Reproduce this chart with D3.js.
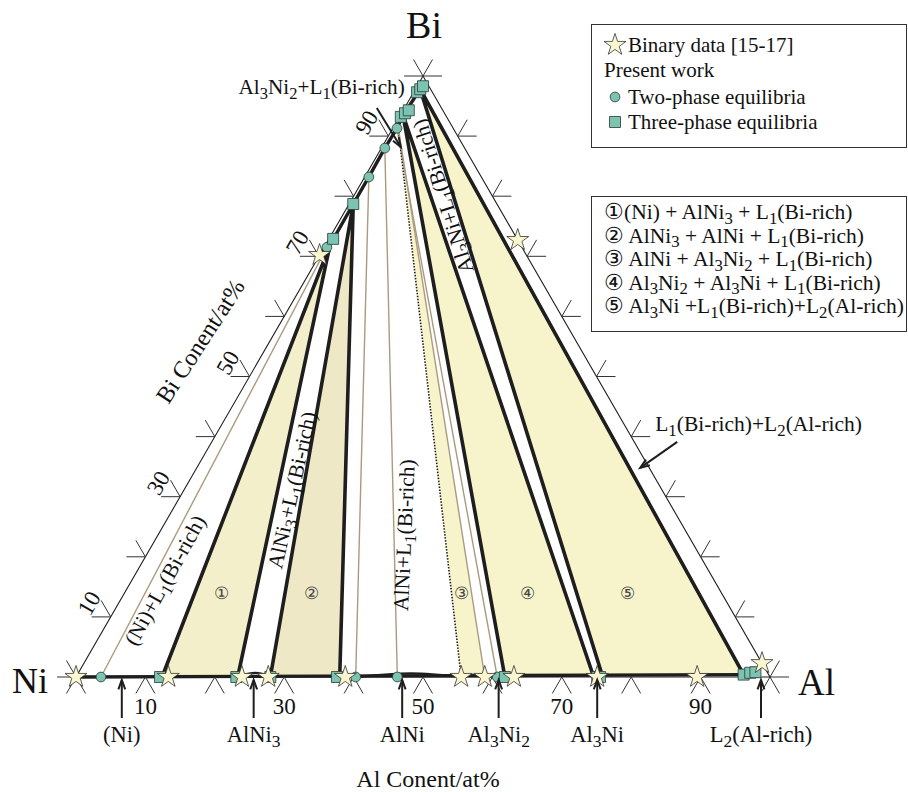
<!DOCTYPE html>
<html>
<head>
<meta charset="utf-8">
<script src="https://cdn.jsdelivr.net/npm/d3@7"></script>
<style>
body { margin: 0; background: #fff; }
svg text { font-family: "Liberation Serif", "DejaVu Serif", serif; fill: #111; }
</style>
</head>
<body>
<svg id="chart" width="908" height="792"></svg>
<script>
// all compositions are at% as [Al, Bi]
var binaryStars = [[0,0],[13.3,0],[23.9,0],[27.7,0],[38.8,0],[55.5,0],[58.9,0],[63.1,0],[75.1,0],[89.5,0],[97.7,2.3],[0,70.2],[27.3,72.7]]
var twoPhaseSolid = [[3.6,0],[40.3,0],[46.3,0],[60.7,0]]
var twoPhaseLiquid = [[0.4,71.5],[0.6,83.2],[0.5,88.0],[0.6,91.3]]
var threePhasePts = [[12.1,0],[23.1,0],[28.0,0],[37.6,0],[61.8,0],[75.1,0],[75.5,0],[96.0,0.4],[96.8,0.7],[97.5,0.8],
                     [0.6,72.9],[0.6,78.7],[0.2,93.2],[0.5,93.8],[0.8,94.3],[0.5,97.3],[0.7,97.8],[0.85,98.3]]

// tie triangles
var regionNames = ['\u2460','\u2461','\u2462','\u2463','\u2464']
var regionL1 = [[0.65,71.9],[0.6,78.7],[0.55,91.7],[0.3,93.6],[0.7,97.8]]
var regionSolidA = [[12.4,0],[28.0,0],[55.5,0],[61.8,0],[75.9,0]]
var regionSolidB = [[23.3,0],[38.0,0],[58.9,0],[74.6,0],[96.0,0.4]]
var regionLabelAt = [[14,14],[27,14],[48.6,14],[58,14],[72.5,14]]

var liquidusL1 = [[0,70.2],[0.4,71.5],[0.65,72.9],[0.6,78.7],[0.6,83.2],[0.5,88],[0.6,91.3],[0.4,93.5],[0.7,97.8],[0.6,99]]
var solidusBase = [[0,0],[96.0,0.4]]
var lensAlNi3 = [[23.1,0],[25.5,0.7],[28.0,0]]
var lensAlNi = [[40.3,0],[48,0.6],[55.5,0]]

var tickValues = [0,10,20,30,40,50,60,70,80,90,100]
var tickLabels = [10,30,50,70,90]

var phaseArrows = ['(Ni)','AlNi_3','AlNi','Al_3Ni_2','Al_3Ni','L_2(Al-rich)']
var phaseArrowAl = [6.6,25.6,47.0,60.9,75.1,98.7]

var bandLabels = ['(Ni)+L_1(Bi-rich)','AlNi_3+L_1(Bi-rich)','AlNi+L_1(Bi-rich)','Al_3Ni+L_1(Bi-rich)']
var bandLabelAt = [[4.8,16.1],[15.6,31.1],[35.5,23.6],[12.9,80.0]]
var bandLabelAngle = [-61,-77.5,-87.5,-107.5]

var legendTop = ['Binary data [15-17]','Present work','Two-phase equilibria','Three-phase equilibria']
var legendRegions = ['\u2460(Ni) + AlNi_3 + L_1(Bi-rich)','\u2461 AlNi_3 + AlNi + L_1(Bi-rich)',
                     '\u2462 AlNi + Al_3Ni_2 + L_1(Bi-rich)','\u2463 Al_3Ni_2 + Al_3Ni + L_1(Bi-rich)',
                     '\u2464 Al_3Ni +L_1(Bi-rich)+L_2(Al-rich)']

var svg = d3.select('#chart')
var xScale = d3.scaleLinear().domain([0,100]).range([76,770])
var yScale = d3.scaleLinear().domain([0,100]).range([677,76])
function project(d) { return [xScale(d[0] + d[1]/2), yScale(d[1])] }
var line = d3.line().x(function(d){ return project(d)[0] }).y(function(d){ return project(d)[1] })
var INK = '#1e1e1e', TAN = '#ab9a80'

// text with _n subscripts; yOff centres the text vertically when asked
function rich(t, str, fs, yOff) {
    var parts = str.split(/_(\d)/), sub = false, first = true
    parts.forEach(function(p, i) {
        if (i % 2 == 1) {
            t.append('tspan').attr('dy', fs*0.22 + (first && yOff ? yOff : 0)).attr('font-size', fs*0.78).text(p)
            sub = true
            first = false
        } else if (p !== '') {
            var dy = sub ? -fs*0.22 : (first && yOff ? yOff : null)
            t.append('tspan').attr('dy', dy).text(p)
            sub = false
            first = false
        }
    })
    return t
}

// fills
var fills = ['#f3efca','#eee8c6','#f7f4cc','#f7f4cc','#f7f4cc']
regionL1.forEach(function(d, i) {
    svg.append('path').attr('d', line([d, regionSolidA[i], regionSolidB[i]]) + 'Z')
        .attr('fill', fills[i]).attr('stroke', 'none')
})

// two-phase tie lines
twoPhaseSolid.forEach(function(d, i) {
    svg.append('path').attr('d', line([d, twoPhaseLiquid[i]]))
        .attr('stroke', TAN).attr('stroke-width', 1.4).attr('fill', 'none')
})
// region 3 boundaries (estimated)
svg.append('path').attr('d', line([regionL1[2], regionSolidA[2]]))
    .attr('stroke', INK).attr('stroke-width', 1.6).attr('stroke-dasharray', '1.5,1.5').attr('fill', 'none')
svg.append('path').attr('d', line([regionL1[2], regionSolidB[2]]))
    .attr('stroke', TAN).attr('stroke-width', 1.4).attr('fill', 'none')

// triangle edges
var corners = [[0,0],[100,0],[0,100]]
svg.append('path').attr('d', line(corners) + 'Z')
    .attr('fill', 'none').attr('stroke', INK).attr('stroke-width', 1.1)

// thick tie-triangle sides
regionL1.forEach(function(d, i) {
    if (i == 2) return
    svg.append('path').attr('d', line([regionSolidA[i], d, regionSolidB[i]]))
        .attr('fill', 'none').attr('stroke', INK).attr('stroke-width', 3.6).attr('stroke-linejoin', 'miter')
})
svg.append('path').attr('d', line(liquidusL1))
    .attr('fill', 'none').attr('stroke', INK).attr('stroke-width', 3.4)
svg.append('path').attr('d', line(solidusBase))
    .attr('fill', 'none').attr('stroke', INK).attr('stroke-width', 3.4)
;[lensAlNi3, lensAlNi].forEach(function(l) {
    svg.append('path').attr('d', d3.line().curve(d3.curveCardinal)
        .x(function(d){ return project(d)[0] }).y(function(d){ return project(d)[1] })(l))
        .attr('fill', 'none').attr('stroke', INK).attr('stroke-width', 2.2)
})

// ticks
var TL = 19
var tickDirs = [
    {at: function(t){ return [t,0] }, dirs: [[-0.5,0.866],[0.5,0.866]]},
    {at: function(t){ return [0,t] }, dirs: [[-1,0],[-0.5,-0.866]]},
    {at: function(t){ return [100-t,t] }, dirs: [[1,0],[0.5,-0.866]]}
]
tickDirs.forEach(function(e) {
    tickValues.forEach(function(t) {
        var p = project(e.at(t))
        e.dirs.forEach(function(v) {
            svg.append('line').attr('x1', p[0]).attr('y1', p[1])
                .attr('x2', p[0] + v[0]*TL).attr('y2', p[1] + v[1]*TL)
                .attr('stroke', '#333').attr('stroke-width', 1)
        })
    })
})
tickLabels.forEach(function(t) {
    var p = project([t,0])
    svg.append('text').attr('x', p[0]).attr('y', p[1] + 37).attr('text-anchor', 'middle')
        .attr('font-size', 23).text(t)
    var q = project([0,t])
    svg.append('text').attr('transform', 'translate(' + (q[0]-22) + ',' + (q[1]-14) + ') rotate(-60)')
        .attr('text-anchor', 'middle').attr('dy', '0.35em').attr('font-size', 23).text(t)
})

// markers
var starSym = d3.symbol().type(d3.symbolStar).size(150)
var circSym = d3.symbol().type(d3.symbolCircle).size(75)
var sqSym = d3.symbol().type(d3.symbolSquare).size(121)
function marker(sym, pts, fill) {
    svg.selectAll(null).data(pts).enter().append('path')
        .attr('d', sym)
        .attr('transform', function(d){ var p = project(d); return 'translate(' + p + ')' })
        .attr('fill', fill).attr('stroke', '#2a3a36').attr('stroke-width', 0.8)
}
marker(circSym, twoPhaseSolid.concat(twoPhaseLiquid), '#7cc4b1')
marker(sqSym, threePhasePts, '#7cc4b1')
svg.selectAll(null).data(binaryStars).enter().append('path')
    .attr('d', starSym)
    .attr('transform', function(d){ var p = project(d); return 'translate(' + p + ')' })
    .attr('fill', '#fbf6cf').attr('stroke', '#333').attr('stroke-width', 0.8)

// region numbers
regionNames.forEach(function(n, i) {
    var p = project(regionLabelAt[i])
    svg.append('text').attr('x', p[0]).attr('y', p[1]).attr('dy', '0.35em')
        .attr('text-anchor', 'middle').attr('font-size', 17).style('fill', '#444').text(n)
})

// band labels
bandLabels.forEach(function(s, i) {
    var p = project(bandLabelAt[i])
    var t = svg.append('text').attr('transform', 'translate(' + p + ') rotate(' + bandLabelAngle[i] + ')')
        .attr('text-anchor', 'middle').attr('font-size', 21.5)
    rich(t, s, 21.5, 21.5*0.33)
})

// arrows
function arrow(x1, y1, x2, y2) {
    svg.append('line').attr('x1', x1).attr('y1', y1).attr('x2', x2).attr('y2', y2)
        .attr('stroke', INK).attr('stroke-width', 2)
    var a = Math.atan2(y2 - y1, x2 - x1), h = 10
    var pts = [[x2 - h*Math.cos(a - 0.35), y2 - h*Math.sin(a - 0.35)], [x2, y2],
               [x2 - h*Math.cos(a + 0.35), y2 - h*Math.sin(a + 0.35)]]
    svg.append('path').attr('d', d3.line()(pts)).attr('fill', 'none')
        .attr('stroke', INK).attr('stroke-width', 2)
}
phaseArrows.forEach(function(s, i) {
    var p = project([phaseArrowAl[i], 0])
    arrow(p[0], p[1] + 41, p[0], p[1] + 3)
    var t = svg.append('text').attr('x', p[0]).attr('y', p[1] + 65).attr('text-anchor', 'middle').attr('font-size', 22.5)
    rich(t, s, 22.5)
})
var pA = project([2.7,88.2])
arrow(pA[0] - 24, pA[1] - 39, pA[0], pA[1])
rich(svg.append('text').attr('x', pA[0] + 4).attr('y', pA[1] - 53).attr('text-anchor', 'end').attr('font-size', 21.2),
    'Al_3Ni_2+L_1(Bi-rich)', 21.2)
var pB = project([63.9,34.8])
arrow(pB[0] + 37, pB[1] - 26, pB[0], pB[1])
rich(svg.append('text').attr('x', pB[0] + 15).attr('y', pB[1] - 37).attr('font-size', 21.5),
    'L_1(Bi-rich)+L_2(Al-rich)', 21.5)

// corner & axis titles
svg.append('text').attr('x', 424).attr('y', 38).attr('text-anchor', 'middle').attr('font-size', 38).text('Bi')
svg.append('text').attr('x', 12).attr('y', 693).attr('font-size', 36).text('Ni')
svg.append('text').attr('x', 798).attr('y', 695).attr('font-size', 37).text('Al')
svg.append('text').attr('x', 428).attr('y', 787).attr('text-anchor', 'middle').attr('font-size', 24).text('Al Conent/at%')
svg.append('text').attr('transform', 'translate(200,341) rotate(-57)').attr('text-anchor', 'middle')
    .attr('dy', '0.35em').attr('font-size', 24).text('Bi Conent/at%')

// legends
svg.append('rect').attr('x', 591.5).attr('y', 24.5).attr('width', 315).attr('height', 123)
    .attr('fill', '#fff').attr('stroke', '#333').attr('stroke-width', 1)
var legY = [52, 77, 104, 129]
legendTop.forEach(function(s, i) {
    svg.append('text').attr('x', i == 1 ? 604 : 628).attr('y', legY[i]).attr('font-size', 21).text(s)
})
var legSyms = [[starSym, 0, '#fbf6cf'], [circSym, 2, '#7cc4b1'], [sqSym, 3, '#7cc4b1']]
legSyms.forEach(function(m) {
    svg.append('path').attr('d', m[0]).attr('transform', 'translate(615,' + (legY[m[1]] - 7) + ')')
        .attr('fill', m[2]).attr('stroke', '#2a3a36').attr('stroke-width', 0.8)
})
svg.append('rect').attr('x', 591.5).attr('y', 196.5).attr('width', 315).attr('height', 135)
    .attr('fill', '#fff').attr('stroke', '#333').attr('stroke-width', 1)
legendRegions.forEach(function(s, i) {
    rich(svg.append('text').attr('x', 604).attr('y', 219 + i*23.5).attr('font-size', 21.5), s, 21.5)
})
</script>
</body>
</html>
